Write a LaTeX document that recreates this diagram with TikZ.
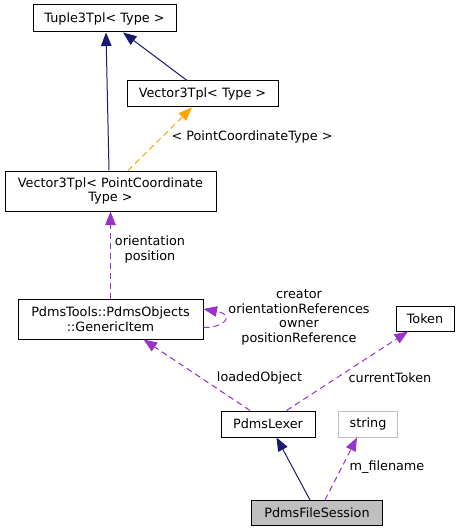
\documentclass[tikz,border=0pt]{standalone}
\usepackage{fontspec}
\setmainfont{DejaVu Sans}
\usetikzlibrary{arrows.meta,calc}
\definecolor{navy}{HTML}{191970}
\definecolor{orch}{HTML}{9A32CD}
\definecolor{orng}{HTML}{FFA500}
\definecolor{gfill}{HTML}{BFBFBF}
\tikzset{
  cls/.style={draw=black, line width=1pt, fill=white, inner sep=0pt, align=center,
    font=\fontsize{12.8}{14.6}\selectfont},
  tip/.style={-{Triangle[length=13.5pt,width=10.5pt]}},
  inherit/.style={tip, draw=navy, line width=1pt},
  usage/.style={tip, draw=orch, line width=1pt, dash pattern=on 6pt off 4pt},
  tmpl/.style={tip, draw=orng, line width=1pt, dash pattern=on 6pt off 4pt},
  lbl/.style={align=center, inner sep=0pt, font=\fontsize{12.8}{14.6}\selectfont}
}
\begin{document}
\begin{tikzpicture}[x=1pt,y=-1pt]
\useasboundingbox (0,0) rectangle (460,532);
\node[cls, minimum width=143pt, minimum height=27pt] (tuple) at (104.5,18.5) {Tuple3Tpl< Type >};
\node[cls, minimum width=151pt, minimum height=26pt] (vtype) at (202.5,94) {Vector3Tpl< Type >};
\node[cls, minimum width=211pt, minimum height=40pt] (vpct) at (110.5,191) {Vector3Tpl< PointCoordinate\\Type >};
\node[cls, minimum width=185pt, minimum height=40pt] (gi) at (110.5,319) {PdmsTools::PdmsObjects\\::GenericItem};
\node[cls, minimum width=58pt, minimum height=25pt] (token) at (425,318.5) {Token};
\node[cls, minimum width=94pt, minimum height=26pt] (lexer) at (268,424) {PdmsLexer};
\node[cls, draw=gfill, minimum width=59pt, minimum height=26pt] (string) at (368,424) {string};
\node[cls, fill=gfill, minimum width=131pt, minimum height=25pt] (session) at (317,513) {PdmsFileSession};

% inheritance
\draw[inherit] ($(vpct.north)+(-1.5,0)$) -- ($(tuple.south)+(1.5,0)$);
\draw[inherit] ($(vtype.north)+(-15.5,0)$) -- ($(tuple.south)+(18.5,0)$);
\draw[inherit] ($(session.north)+(-7,0)$) -- ($(lexer.south)+(8.5,0)$);

% template
\draw[tmpl] ($(vpct.north)+(17.5,0)$) -- ($(vtype.south)+(-10.5,0)$);
\node[lbl] (tl) at (252,137) {< PointCoordinateType >};

% usage
\draw[usage] (gi.north) -- (vpct.south);
\node[lbl] (l1) at (150,249.5) {orientation\\position};
\draw[usage] ($(gi.east)+(0,8.5)$) .. controls (224,328) and (236,315) .. ($(gi.east)+(0,-10)$);
\node[lbl] (l2) at (299,317.5) {creator\\orientationReferences\\owner\\positionReference};
\draw[usage] ($(lexer.north)+(-18,0)$) -- ($(gi.south)+(33,0)$);
\node[lbl] (l3) at (259.5,378) {loadedObject};
\draw[usage] ($(lexer.north)+(18.5,0)$) -- ($(token.south)+(-17,0)$);
\node[lbl] (l4) at (390,378) {currentToken};
\draw[usage] ($(session.north)+(8,0)$) -- ($(string.south)+(-11,0)$);
\node[lbl] (l5) at (387,467.5) {m\_filename};
\end{tikzpicture}
\end{document}
